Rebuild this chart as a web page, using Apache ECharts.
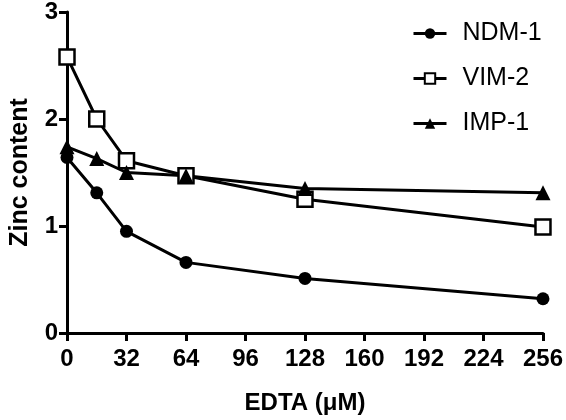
<!DOCTYPE html>
<html><head><meta charset="utf-8">
<script src="https://cdn.jsdelivr.net/npm/echarts@6/dist/echarts.min.js"></script>
<style>html,body{margin:0;padding:0;background:#fff}#c{width:566px;height:420px}</style>
</head><body><div id="c"></div>
<script>
var edta = [0, 16, 32, 64, 128, 256];
var ndm1 = [1.64, 1.31, 0.95, 0.66, 0.51, 0.32];
var vim2 = [2.58, 2.00, 1.61, 1.47, 1.25, 0.99];
var imp1 = [1.74, 1.63, 1.50, 1.47, 1.35, 1.31];
var seriesNames = ['NDM-1', 'VIM-2', 'IMP-1'];

function pairs(v){ return edta.map(function(x,i){ return [x, v[i]]; }); }
var font = 'Liberation Sans, Arial, sans-serif';
var chart = echarts.init(document.getElementById('c'));
chart.setOption({
  animation: false,
  backgroundColor: '#fff',
  grid: {left: 59, right: 21, top: 10, bottom: 85},
  legend: {
    orient: 'vertical', left: 407, top: 16, itemGap: 20,
    itemWidth: 33, itemHeight: 13,
    lineStyle: {width: 3, color: '#000'},
    textStyle: {fontFamily: font, fontSize: 25, color: '#000', padding: [0, 0, 0, 11]},
    data: seriesNames
  },
  xAxis: {
    type: 'value', min: 0, max: 256, interval: 32,
    name: 'EDTA (μM)', nameLocation: 'middle', nameGap: 58,
    nameTextStyle: {fontFamily: font, fontSize: 24, fontWeight: 'bold', color: '#000'},
    axisLine: {show: true, lineStyle: {color: '#000', width: 3}},
    axisTick: {show: true, length: 8, lineStyle: {color: '#000', width: 3}},
    axisLabel: {fontFamily: font, fontSize: 24, fontWeight: 'bold', color: '#000', margin: 14},
    splitLine: {show: false}
  },
  yAxis: {
    type: 'value', min: 0, max: 3, interval: 1,
    name: 'Zinc content', nameLocation: 'middle', nameGap: 34,
    nameTextStyle: {fontFamily: font, fontSize: 25, fontWeight: 'bold', color: '#000'},
    axisLine: {show: true, lineStyle: {color: '#000', width: 3}},
    axisTick: {show: true, length: 8, lineStyle: {color: '#000', width: 3}},
    axisLabel: {fontFamily: font, fontSize: 24, fontWeight: 'bold', color: '#000', margin: 9},
    splitLine: {show: false}
  },
  series: [
    {name: seriesNames[0], type: 'line', data: pairs(ndm1), symbol: 'circle', symbolSize: 13,
     lineStyle: {color: '#000', width: 3}, itemStyle: {color: '#000'}},
    {name: seriesNames[1], type: 'line', data: pairs(vim2), symbol: 'rect', symbolSize: 15,
     lineStyle: {color: '#000', width: 3}, itemStyle: {color: '#fff', borderColor: '#000', borderWidth: 2.5}, z: 3},
    {name: seriesNames[2], type: 'line', data: pairs(imp1), symbol: 'triangle', symbolSize: 15,
     lineStyle: {color: '#000', width: 3}, itemStyle: {color: '#000'}}
  ]
});
</script></body></html>
